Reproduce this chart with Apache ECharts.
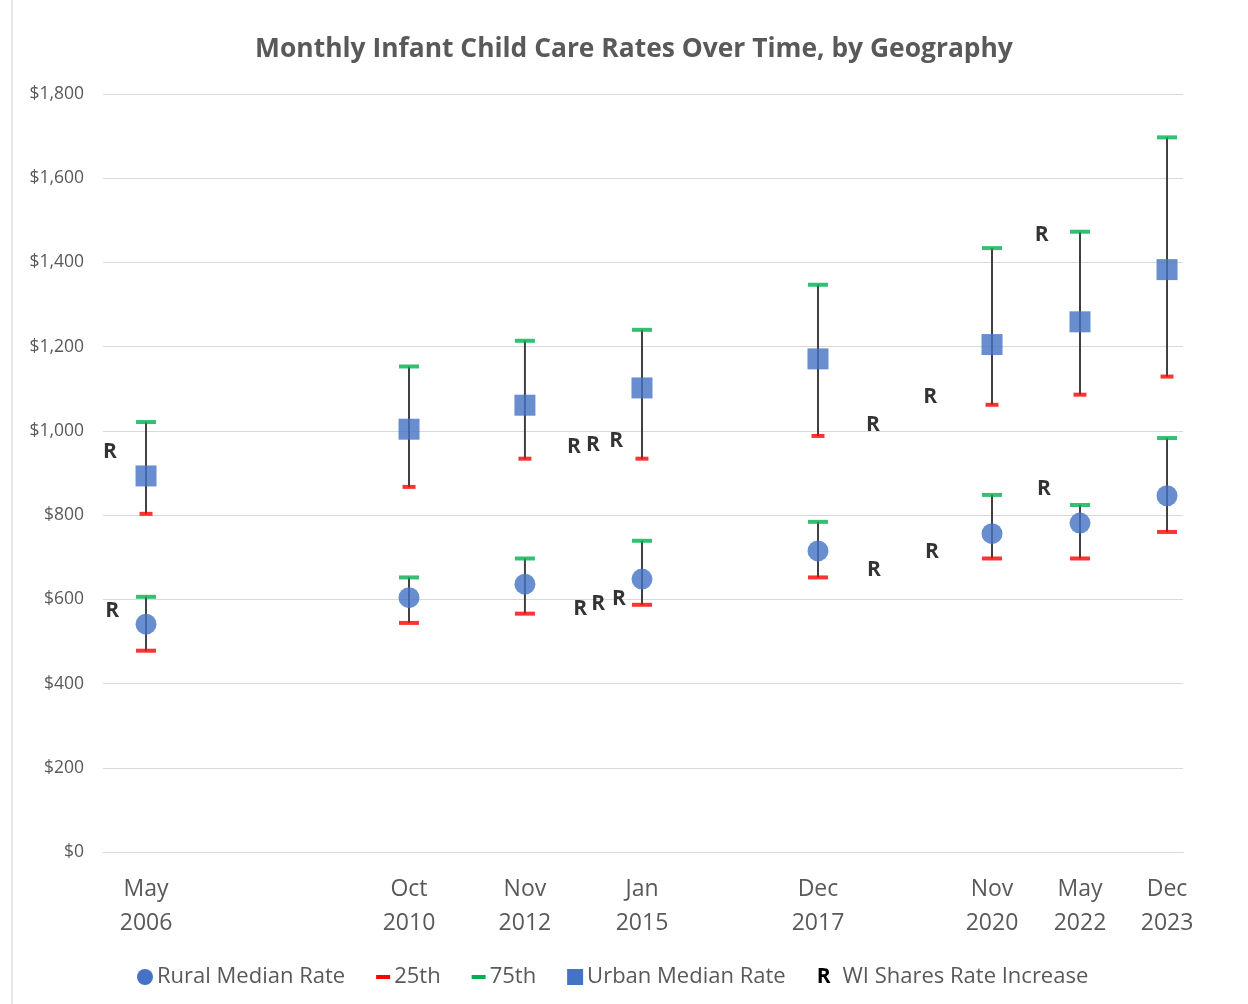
<!DOCTYPE html>
<html><head><meta charset="utf-8">
<script src="https://cdn.jsdelivr.net/npm/echarts@6/dist/echarts.min.js"></script>
<style>html,body{margin:0;padding:0;background:#fff}#c{width:1248px;height:1004px}</style>
</head><body><div id="c"></div>
<script>
const dates = [2006.375, 2010.904, 2012.90, 2014.916, 2017.947, 2020.944, 2022.459, 2023.958];
const dateLabels = ['May\n2006', 'Oct\n2010', 'Nov\n2012', 'Jan\n2015', 'Dec\n2017', 'Nov\n2020', 'May\n2022', 'Dec\n2023'];

const urbanMedian = [893, 1004, 1061, 1102, 1171, 1205, 1259, 1383];
const urban25 = [803, 867, 934, 934, 988, 1062, 1086, 1129];
const urban75 = [1021, 1153, 1214, 1240, 1347, 1434, 1473, 1697];

const ruralMedian = [541, 604, 636, 648, 715, 756, 781, 846];
const rural25 = [478, 544, 566, 587, 652, 697, 697, 760];
const rural75 = [606, 652, 697, 739, 784, 848, 824, 983];

// "R" = WI Shares Rate Increase markers [date, value]
const rUrban = [[2005.755, 950], [2013.745, 962], [2014.07, 967], [2014.47, 976], [2018.895, 1014], [2019.88, 1080], [2021.80, 1465]];
const rRural = [[2005.79, 572], [2013.85, 577], [2014.16, 589], [2014.52, 601], [2018.91, 670], [2019.91, 712], [2021.84, 862]];

const yTicks = [0, 200, 400, 600, 800, 1000, 1200, 1400, 1600, 1800];

const BLUE = '#4472C4', RED = '#FF0000', GREEN = '#00B050', GRAY = '#595959';
const FONT = '"Open Sans", sans-serif';

const labelOf = {};
dates.forEach((d, i) => labelOf[d] = dateLabels[i]);

const bars = [];
dates.forEach((d, i) => { bars.push([d, urban25[i], urban75[i]]); bars.push([d, rural25[i], rural75[i]]); });

const p25 = [];
dates.forEach((d, i) => { p25.push({value: [d, urban25[i]], symbolSize: [13, 4]}); p25.push({value: [d, rural25[i]], symbolSize: [20, 4]}); });
const p75 = [];
dates.forEach((d, i) => { p75.push({value: [d, urban75[i]]}); p75.push({value: [d, rural75[i]]}); });

const chart = echarts.init(document.getElementById('c'));
chart.setOption({
  animation: false,
  backgroundColor: '#fff',
  title: {
    text: 'Monthly Infant Child Care Rates Over Time, by Geography',
    left: 629, top: 31, textAlign: 'center',
    textStyle: {fontFamily: FONT, fontSize: 26.4, fontWeight: 'bold', color: GRAY}
  },
  grid: {left: 103, right: 65, top: 94, bottom: 152, containLabel: false},
  xAxis: {
    type: 'value', min: 2005.634, max: 2024.233,
    axisLine: {show: true, lineStyle: {color: '#D9D9D9'}},
    axisTick: {show: false},
    splitLine: {show: false},
    axisLabel: {
      customValues: dates,
      formatter: v => { let best = dates[0]; dates.forEach(d => { if (Math.abs(d - v) < Math.abs(best - v)) best = d; }); return labelOf[best]; },
      fontFamily: FONT, fontSize: 23, color: GRAY, lineHeight: 34, margin: 20
    }
  },
  yAxis: {
    type: 'value', min: 0, max: 1800, interval: 200,
    axisLine: {show: false}, axisTick: {show: false},
    splitLine: {lineStyle: {color: '#D9D9D9', width: 1}},
    axisLabel: {customValues: yTicks, formatter: v => '$' + v.toLocaleString('en-US'), fontFamily: FONT, fontSize: 17.5, color: GRAY, margin: 19}
  },
  legend: {
    bottom: 11, left: 127, itemGap: 26, icon: 'none', itemWidth: 0, itemHeight: 0,
    selectedMode: false,
    textStyle: {fontFamily: FONT, fontSize: 22, color: GRAY,
      rich: {
        c: {width: 16, height: 16, borderRadius: 8, backgroundColor: BLUE},
        s: {width: 16, height: 16, backgroundColor: BLUE},
        red: {width: 14, height: 4, backgroundColor: RED},
        grn: {width: 14, height: 4, backgroundColor: GREEN},
        r: {fontFamily: FONT, fontWeight: 'bold', fontSize: 21, color: '#000', padding: [0, 8, 0, 0]},
        t: {fontFamily: FONT, fontSize: 22, color: GRAY, padding: [0, 0, 0, 4]}
      }},
    formatter: name => {
      if (name === 'Rural Median Rate') return '{c|}{t|' + name + '}';
      if (name === 'Urban Median Rate') return '{s|}{t|' + name + '}';
      if (name === '25th') return '{red|}{t|' + name + '}';
      if (name === '75th') return '{grn|}{t|' + name + '}';
      return '{r|R}{t|' + name + '}';
    },
    data: ['Rural Median Rate', '25th', '75th', 'Urban Median Rate', 'WI Shares Rate Increase']
  },
  graphic: [{type: 'line', shape: {x1: 12, y1: 0, x2: 12, y2: 1004}, style: {stroke: '#D0D0D0', lineWidth: 1}}],
  series: [
    {
      name: 'range', type: 'custom', z: 1,
      renderItem: (params, api) => {
        const lo = api.coord([api.value(0), api.value(1)]);
        const hi = api.coord([api.value(0), api.value(2)]);
        return {type: 'line', shape: {x1: lo[0], y1: lo[1], x2: hi[0], y2: hi[1]}, style: {stroke: '#404040', lineWidth: 2}};
      },
      encode: {x: 0, y: [1, 2]},
      data: bars
    },
    {name: '25th', type: 'scatter', z: 3, symbol: 'rect', symbolSize: [20, 4], itemStyle: {color: RED}, data: p25},
    {name: '75th', type: 'scatter', z: 3, symbol: 'rect', symbolSize: [20, 4], itemStyle: {color: GREEN}, data: p75},
    {name: 'Rural Median Rate', type: 'scatter', z: 4, symbol: 'circle', symbolSize: 21, itemStyle: {color: BLUE},
      data: dates.map((d, i) => [d, ruralMedian[i]])},
    {name: 'Urban Median Rate', type: 'scatter', z: 4, symbol: 'rect', symbolSize: 21, itemStyle: {color: BLUE},
      data: dates.map((d, i) => [d, urbanMedian[i]])},
    {name: 'WI Shares Rate Increase', type: 'scatter', z: 5, symbol: 'circle', symbolSize: 1, itemStyle: {color: 'rgba(0,0,0,0)'},
      label: {show: true, position: 'inside', formatter: 'R', fontFamily: FONT, fontWeight: 'bold', fontSize: 21, color: '#000'},
      data: rUrban.concat(rRural)}
  ]
});
</script></body></html>
